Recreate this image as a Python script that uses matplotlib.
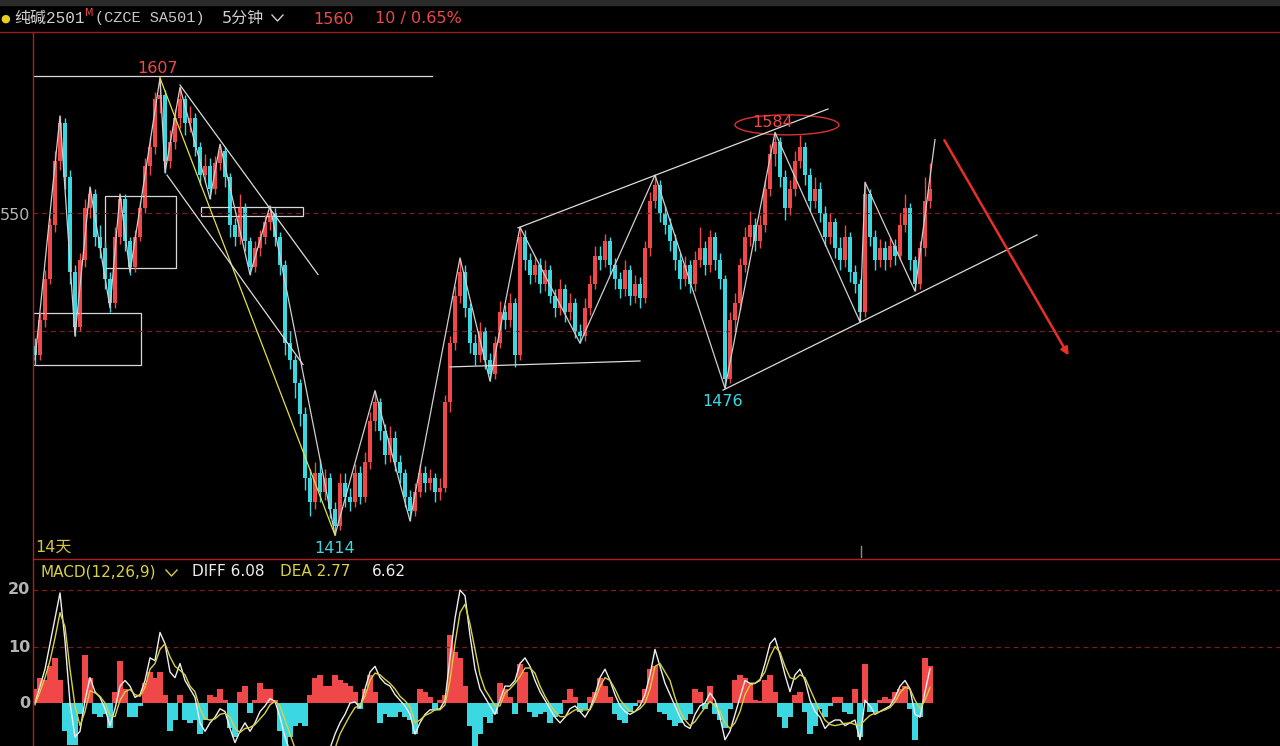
import numpy as np
import matplotlib.pyplot as plt
from matplotlib.lines import Line2D
from matplotlib.patches import Rectangle, Ellipse

# ---- price bars (5 minute) ----
first_open = 1494
close = [
    1490, 1505, 1522, 1545, 1572, 1588, 1565, 1525, 1502, 1530,
    1552, 1558, 1540, 1535, 1522, 1512, 1540, 1556, 1538, 1527,
    1540, 1552, 1570, 1578, 1598, 1600, 1572, 1580, 1590, 1598,
    1588, 1590, 1578, 1566, 1570, 1560, 1571, 1576, 1565, 1545,
    1540, 1552, 1538, 1527, 1535, 1540, 1546, 1550, 1540, 1528,
    1495, 1488, 1478, 1465, 1438, 1428, 1440, 1432, 1438, 1425,
    1418, 1436, 1430, 1428, 1440, 1430, 1445, 1462, 1470, 1458,
    1448, 1455, 1445, 1440, 1430, 1424, 1432, 1440, 1436, 1438,
    1432, 1434, 1470, 1495, 1515, 1525, 1510, 1495, 1490, 1500,
    1488, 1482, 1495, 1508, 1505, 1512, 1490, 1540, 1530, 1524,
    1528, 1520, 1526, 1515, 1510, 1518, 1508, 1512, 1500, 1498,
    1510, 1520, 1532, 1530, 1538, 1528, 1522, 1518, 1526, 1515,
    1520, 1514, 1535, 1555, 1562, 1550, 1545, 1538, 1530, 1522,
    1528, 1520, 1530, 1535, 1528, 1540, 1530, 1522, 1480, 1505,
    1512, 1528, 1540, 1545, 1538, 1545, 1560, 1575, 1580, 1565,
    1552, 1560, 1572, 1578, 1566, 1555, 1560, 1550, 1540, 1546,
    1535, 1530, 1540, 1525, 1520, 1508, 1558, 1540, 1530, 1535,
    1530, 1536, 1532, 1545, 1552, 1530, 1520, 1535, 1555, 1560,
]
high = [
    1497, 1508, 1526, 1548, 1576, 1591, 1590, 1568, 1528, 1533,
    1556, 1561, 1560, 1545, 1538, 1525, 1544, 1558, 1558, 1540,
    1543, 1555, 1573, 1582, 1601, 1607, 1602, 1585, 1594, 1603,
    1600, 1595, 1592, 1580, 1575, 1573, 1574, 1579, 1578, 1567,
    1548, 1558, 1554, 1540, 1538, 1543, 1549, 1553, 1552, 1542,
    1530, 1500, 1490, 1480, 1468, 1442, 1445, 1446, 1442, 1440,
    1428, 1440, 1440, 1434, 1444, 1443, 1449, 1466, 1475, 1472,
    1461, 1460, 1458, 1448, 1442, 1433, 1436, 1444, 1443, 1442,
    1440, 1438, 1473, 1498, 1519, 1531, 1528, 1512, 1499, 1504,
    1502, 1491, 1498, 1513, 1511, 1516, 1514, 1544, 1543, 1533,
    1532, 1531, 1530, 1528, 1518, 1522, 1520, 1516, 1514, 1503,
    1514, 1524, 1536, 1536, 1541, 1540, 1531, 1525, 1530, 1528,
    1524, 1523, 1538, 1559, 1566, 1564, 1553, 1548, 1541, 1533,
    1532, 1530, 1534, 1544, 1538, 1543, 1542, 1533, 1524, 1508,
    1516, 1531, 1544, 1551, 1548, 1549, 1564, 1579, 1584, 1582,
    1568, 1564, 1576, 1583, 1580, 1569, 1565, 1563, 1553, 1550,
    1548, 1540, 1545, 1542, 1528, 1522, 1563, 1560, 1543, 1539,
    1538, 1540, 1539, 1550, 1558, 1554, 1532, 1538, 1565, 1571,
]
low = [
    1486, 1488, 1502, 1520, 1542, 1568, 1560, 1520, 1498, 1500,
    1527, 1548, 1536, 1531, 1518, 1508, 1510, 1537, 1534, 1524,
    1525, 1538, 1550, 1566, 1575, 1592, 1567, 1569, 1577, 1586,
    1583, 1584, 1574, 1562, 1563, 1556, 1558, 1568, 1561, 1540,
    1536, 1537, 1534, 1524, 1525, 1532, 1537, 1543, 1536, 1524,
    1490, 1484, 1472, 1460, 1433, 1422, 1425, 1428, 1429, 1421,
    1414, 1416, 1426, 1424, 1426, 1427, 1428, 1442, 1458, 1454,
    1444, 1445, 1441, 1436, 1426, 1420, 1422, 1430, 1432, 1433,
    1428, 1429, 1432, 1466, 1492, 1512, 1506, 1491, 1486, 1487,
    1484, 1479, 1480, 1493, 1501, 1502, 1485, 1488, 1526, 1520,
    1521, 1516, 1517, 1512, 1506, 1507, 1504, 1505, 1497, 1495,
    1496, 1507, 1518, 1526, 1527, 1524, 1518, 1514, 1515, 1511,
    1512, 1510, 1512, 1532, 1552, 1546, 1541, 1534, 1526, 1518,
    1519, 1516, 1517, 1527, 1524, 1525, 1526, 1518, 1476, 1478,
    1500, 1509, 1525, 1536, 1534, 1535, 1542, 1557, 1570, 1561,
    1547, 1549, 1557, 1569, 1562, 1551, 1552, 1546, 1536, 1537,
    1531, 1526, 1527, 1521, 1516, 1504, 1506, 1536, 1526, 1527,
    1526, 1527, 1528, 1530, 1542, 1526, 1517, 1518, 1532, 1552,
]

# ---- MACD(12,26,9) panel ----
macd_hist = [
    2.5, 4.5, 4.0, 6.5, 8.0, 4.0, -5.0, -7.5, -7.5, -2.0,
    8.5, 4.5, -2.0, -2.5, -2.0, -4.5, 2.0, 7.5, 2.5, -2.5,
    -2.5, -0.5, 3.5, 5.5, 4.5, 5.5, 1.5, -5.0, -3.0, 1.5,
    -3.0, -3.5, -3.0, -5.5, -3.0, 1.5, 1.0, 2.5, 0.5, -4.5,
    -6.0, 2.0, 3.0, -1.8, 0.5, 3.5, 2.5, 2.5, 0.5, -5.0,
    -7.6, -6.0, -4.0, -3.5, -4.0, 1.5, 4.5, 5.0, 3.0, 3.0,
    5.0, 4.0, 3.5, 3.0, 2.0, -1.0, 2.5, 5.0, 2.0, -3.5,
    -2.0, -2.5, -2.5, -1.5, -2.5, -3.0, -5.5, 2.5, 2.0, 1.0,
    -1.0, 0.5, 1.5, 12.0, 9.0, 8.0, 3.0, -4.0, -7.6, -5.5,
    -2.5, -3.5, -2.0, 3.5, 2.5, 1.0, -2.0, 7.0, 5.5, -1.5,
    -2.5, -2.0, -1.5, -3.5, -2.5, -2.0, 0.5, 2.5, 1.0, -1.5,
    -1.0, 1.0, 2.0, 4.5, 3.0, 1.0, -2.0, -3.0, -3.5, -1.5,
    -0.5, 0.5, 2.5, 6.0, 6.5, -1.5, -2.0, -3.0, -4.0, -3.5,
    -3.0, -2.0, 2.5, 2.0, -1.0, 3.0, -2.0, -3.0, -4.5, -1.0,
    4.0, 5.0, 4.5, 3.5, 0.5, 0.3, 4.0, 5.0, 2.0, -2.5,
    -4.5, -2.5, 1.5, 2.0, -1.5, -5.5, -4.0, -1.0, -2.5, -0.5,
    1.0, 1.0, -1.5, -2.0, 2.5, -6.0, 7.0, -1.5, -1.5, 0.5,
    1.0, 0.8, 2.0, 2.5, 3.0, -1.0, -6.5, -2.5, 8.0, 6.62,
]
macd_diff = [
    0, 3, 6, 10.5, 15, 19.5, 11, 0, -6, -5,
    0.5, 4.5, 2, 1, -1, -4, -1, 3, 4, 3,
    1, 1.5, 4, 8, 7.5, 12.5, 10.5, 5.5, 4.5, 7,
    4, 2.5, 1, -3.5, -5, -3.5, -2.5, -1, -1.5, -4.5,
    -7, -5, -3.5, -5, -3.5, -1.5, -0.5, 0.8, 0.3, -2.5,
    -6, -8.5, -10, -11, -11, -10, -9.5, -9.5, -9, -8,
    -5.5, -3.5, -2, 0, 0.2, -0.8, 2.5, 5.5, 6.5, 4.5,
    3.5, 3, 1.5, 0.5, -0.5, -2, -5.5, -3.5, -2, -1.2,
    -1.2, -1, 0.5, 8, 15, 20, 19, 12, 6, 2.5,
    1, -0.5, -2, 0.5, 3, 3, 4, 7, 8, 6.5,
    4, 2, 0.5, -1, -2.5, -3.5, -2.5, -1, -0.5, -1.5,
    -2.5, -1, 1.5, 4.5, 6, 4, 1.5, -0.5, -1.5, -2,
    -1.5, -0.5, 1.5, 5, 9.5, 6.5, 3.5, 1.5, -0.5, -2.5,
    -4, -4.5, -2, -0.5, 0, 1.8, 0.5, -2.5, -6.5, -5,
    -2, 1, 4, 3.5, 3.5, 4, 7, 10.5, 11.5, 8.5,
    5, 2, 5, 6, 4, 0.5, -1.5, -2.5, -4.5, -3.5,
    -3, -3, -4, -3.5, -3, -6.5, 0.5, -0.5, -2, -1.5,
    -1, -0.5, 1, 3, 4, 2.5, -2, -2.5, 2, 6.08,
]
macd_dea = [
    -0.3, 2, 4.5, 7.5, 11.5, 16, 13.5, 6, -0.5, -4,
    -1.5, 2.2, 1.8, 1.2, 0, -2.2, -2.4, 0.5, 2, 2.4,
    1.5, 1.2, 2.8, 6, 7, 9.5, 10.5, 8.2, 6.5, 5.8,
    5, 3, 2, -1, -2.8, -3, -2.8, -2, -1.8, -2.5,
    -4.5, -5.2, -4.5, -4.3, -3.8, -2.8, -1.8, -0.3, 0.3, -0.5,
    -3, -5.5, -8, -9.5, -10.5, -11, -11.5, -12, -11.5, -10.5,
    -8, -5.5, -3.8, -2.2, -0.8, -0.4, 1.2, 4, 5.3, 5,
    4.2, 3.5, 2.5, 1.2, 0.4, -0.6, -3.5, -3, -2.2, -1.8,
    -1.2, -1.2, -0.3, 4, 10.5, 16, 17.5, 14, 9.5, 5,
    2.4, 1, -0.5, -0.5, 1.8, 2.5, 3.5, 4.7, 6.2, 6.2,
    5.3, 3, 1.2, -0.3, -1.5, -2.4, -2.4, -1.8, -1.2, -1.2,
    -1.2, -1.2, 0.6, 2.9, 4.5, 4, 2.5, 0.6, -0.5, -1.5,
    -1.5, -1, 0, 2.5, 6.5, 7, 5.5, 4, 1, -1.5,
    -3, -4, -3.3, -2, -0.8, 0.3, -0.5, -1.5, -3.5, -4.5,
    -3.5, -1.5, 1.5, 3.2, 3.5, 4.2, 5.5, 8.2, 10, 9,
    6.5, 4.5, 4.2, 5, 4.5, 2.5, 0.5, -1.5, -3, -3.8,
    -4, -3.8, -3.6, -3.5, -3.8, -4, -3, -2.2, -1.8, -1.5,
    -1.2, -0.8, 0.2, 1.8, 2.8, 2.5, 0.5, -1, 0.5, 2.77,
]

# ---- hand drawn analysis lines (bar index, price) ----
zigzag_bars = [0, 5, 8, 11, 15, 17, 19, 25, 26, 29, 35, 37, 43, 47, 60, 68, 75, 85,
               91, 97, 109, 124, 138, 148, 165, 166, 176, 180]
zigzag_prices = [1488, 1591, 1498, 1561, 1510, 1558, 1525, 1607, 1567, 1603, 1556, 1579,
                 1524, 1553, 1414, 1475, 1420, 1531, 1479, 1544, 1495, 1566, 1476, 1584,
                 1504, 1563, 1517, 1581]
trend_lines = [  # (bar0, price0, bar1, price1)
    (-0.4, 1608, 79.4, 1608),          # top resistance
    (26.4, 1566, 53.6, 1486),          # falling channel, lower
    (29, 1604, 56.6, 1524),            # falling channel, upper
    (83, 1485, 121, 1487.5),           # support shelf
    (96.6, 1543.7, 158.6, 1593.9),     # rising channel, upper
    (137.6, 1475.2, 200.4, 1540.7),    # rising channel, lower
]
boxes = [  # (bar0, bar1, price_lo, price_hi)
    (-0.4, 21.2, 1485.8, 1507.8),
    (14, 28.2, 1526.8, 1557.2),
    (33.2, 53.6, 1548.7, 1552.5),
]

W, H = 1280, 746
RED = '#f04848'
CYAN = '#3cd8e2'
GRID = '#7a1c1c'
AXIS_RED = '#b01e1e'


def fx(x):
    return x / W


def fy(y):
    return 1 - y / H


fig = plt.figure(figsize=(W / 100, H / 100), dpi=100, facecolor='black')
ax = fig.add_axes([fx(33), fy(559), 1 - fx(33), fy(32) - fy(559)])
ax2 = fig.add_axes([fx(33), 0, 1 - fx(33), fy(559)])
for a in (ax, ax2):
    a.set_axis_off()
    a.set_xlim(-0.4, 249)
ax.set_ylim(1403.9, 1626.4)
ax2.set_ylim(-7.6, 25.5)

# dashed price levels
for lvl in (1550, 1500):
    ax.axhline(lvl, color=GRID, lw=0.9, ls=(0, (4, 3)))
for lvl in (10, 20):
    ax2.axhline(lvl, color=GRID, lw=0.9, ls=(0, (4, 3)))

# candles
xs = np.arange(len(close))
closes = np.array(close, dtype=float)
opens = np.concatenate([[first_open], closes[:-1]])
cols = np.where(closes >= opens, RED, CYAN)
ax.vlines(xs, low, high, colors=cols, lw=1)
ax.bar(xs, np.abs(closes - opens), bottom=np.minimum(opens, closes), width=0.7,
       color=cols, linewidth=0)

# analysis drawings
ax.plot(zigzag_bars, zigzag_prices, color='#cfcfcf', lw=0.9)
ax.plot([25, 60], [1607, 1414], color='#e6e040', lw=0.9)
for b0, p0, b1, p1 in trend_lines:
    ax.plot([b0, b1], [p0, p1], color='#dcdcdc', lw=0.9)
for b0, b1, lo, hi in boxes:
    ax.add_patch(Rectangle((b0, lo), b1 - b0, hi - lo, fill=False,
                           edgecolor='#d8d8d8', lw=0.9))
ax.add_patch(Ellipse((150.4, 1587.2), 20.8, 8.45, fill=False, edgecolor='#d83232', lw=1))
ax.annotate('', xy=(207, 1488.8), xytext=(181.6, 1581.7),
            arrowprops=dict(arrowstyle='-|>', color='#e8302a', lw=1.8, mutation_scale=11))

# price labels
lab = dict(fontsize=11.5, ha='center', va='center')
ax.text(24.6, 1611.2, '1607', color=RED, **lab)
ax.text(147.6, 1588.0, '1584', color=RED, **lab)
ax.text(137.6, 1470.2, '1476', color=CYAN, **lab)
ax.text(60, 1408.5, '1414', color=CYAN, **lab)

# MACD
hist = np.array(macd_hist)
ax2.bar(xs, hist, width=1.05, color=np.where(hist >= 0, RED, CYAN), linewidth=0)
ax2.plot(xs, macd_diff, color='#eeeeee', lw=1)
ax2.plot(xs, macd_dea, color='#d8d040', lw=1)

# frame lines
fig.add_artist(Rectangle((0, fy(5)), 1, fy(0) - fy(5), color='#2b2b2b', transform=fig.transFigure))
fig.add_artist(Line2D([0, 1], [fy(32), fy(32)], color='#9a1c1c', lw=1))
fig.add_artist(Line2D([fx(33), 1], [fy(559), fy(559)], color=AXIS_RED, lw=1))
fig.add_artist(Line2D([fx(33), fx(33)], [fy(32), 0], color=AXIS_RED, lw=1))
fig.add_artist(Line2D([fx(861), fx(861)], [fy(546), fy(557)], color='#8a8a8a', lw=1))

# header
cjk = ['DejaVu Sans', 'Noto Sans CJK SC']
fig.text(fx(0), fy(19), '●', color='#e8d020', fontsize=8, va='center')
fig.text(fx(14), fy(18), '纯碱2501', color='#d0d0d0', fontsize=11.5, va='center',
         family=['Liberation Mono', 'Noto Sans CJK SC'])
fig.text(fx(85), fy(13), 'M', color=RED, fontsize=7, va='center')
fig.text(fx(95), fy(18), '(CZCE SA501)', color='#c8c8c8', fontsize=11, va='center',
         family='Liberation Mono')
fig.text(fx(222), fy(18), '5分钟', color='#d0d0d0', fontsize=11.5, va='center', family=cjk)
fig.add_artist(Line2D([fx(272), fx(277.5), fx(283)], [fy(15), fy(21), fy(15)],
                      color='#d0d0d0', lw=1))
fig.text(fx(313), fy(19), '1560', color=RED, fontsize=11.5, va='center')
fig.text(fx(375), fy(19), '10 / 0.65%', color=RED, fontsize=11.5, va='center')

# axis values (the 1550 label is clipped to "550" in the source screenshot)
gray = '#b4b4b4'
fig.text(fx(0), fy(215), '550', color=gray, fontsize=11.5, ha='left', va='center')
for v, y in ((20, 590), (10, 647), (0, 703)):
    fig.text(fx(30), fy(y), str(v), color=gray, fontsize=11.5, ha='right', va='center',
             weight='bold')
fig.text(fx(35), fy(547), '14天', color='#d8c838', fontsize=11.5, va='center', family=cjk)

# MACD legend
fig.text(fx(40), fy(572), 'MACD(12,26,9)', color='#d8d040', fontsize=11, va='center')
fig.add_artist(Line2D([fx(166), fx(171.5), fx(177)], [fy(570), fy(576), fy(570)],
                      color='#d8d040', lw=1))
fig.text(fx(192), fy(572), 'DIFF 6.08', color='#eeeeee', fontsize=11, va='center')
fig.text(fx(280), fy(572), 'DEA 2.77', color='#d8d040', fontsize=11, va='center')
fig.text(fx(372), fy(572), '6.62', color='#eeeeee', fontsize=11, va='center')

fig.savefig('out.png', dpi=100, facecolor='black')
